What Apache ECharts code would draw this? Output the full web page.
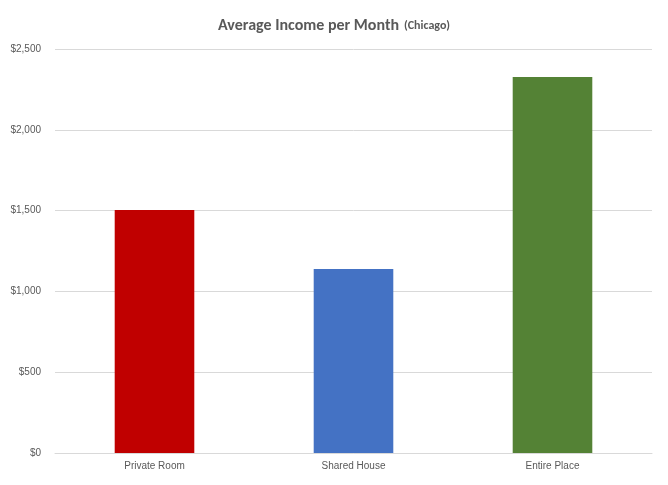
<!DOCTYPE html>
<html><head><meta charset="utf-8">
<script src="https://cdn.jsdelivr.net/npm/echarts@6/dist/echarts.min.js"></script>
<style>html,body{margin:0;padding:0;background:#fff}#c{width:668px;height:485px}</style>
</head><body><div id="c"></div>
<script>
const categories = ["Private Room", "Shared House", "Entire Place"];
const values = [1504, 1139, 2327];
const colors = ["#C00000", "#4472C4", "#548235"];
const chart = echarts.init(document.getElementById('c'));
chart.setOption({
  animation: false,
  title: {
    text: '{a|Average Income per Month} {b|(Chicago)}',
    left: 'center', top: 12,
    textStyle: { rich: {
      a: { fontSize: 16, color: '#595959', fontFamily: 'Calibri, Carlito, "Open Sans", sans-serif' },
      b: { fontSize: 12, color: '#595959', fontFamily: 'Calibri, Carlito, "Open Sans", sans-serif' }
    } }
  },
  grid: { left: 55, right: 16, top: 49, bottom: 32 },
  xAxis: {
    type: 'category', data: categories,
    axisTick: { show: false },
    axisLine: { lineStyle: { color: '#D9D9D9' } },
    axisLabel: { color: '#595959', fontSize: 10, margin: 8 }
  },
  yAxis: {
    type: 'value', min: 0, max: 2500, interval: 500,
    axisLabel: { color: '#595959', fontSize: 10, margin: 14,
      formatter: v => '$' + v.toLocaleString('en-US') },
    splitLine: { lineStyle: { color: '#D9D9D9' } }
  },
  series: [{
    type: 'bar', barWidth: '40%',
    data: values.map((v, i) => ({ value: v, itemStyle: { color: colors[i] } }))
  }]
});
</script></body></html>
